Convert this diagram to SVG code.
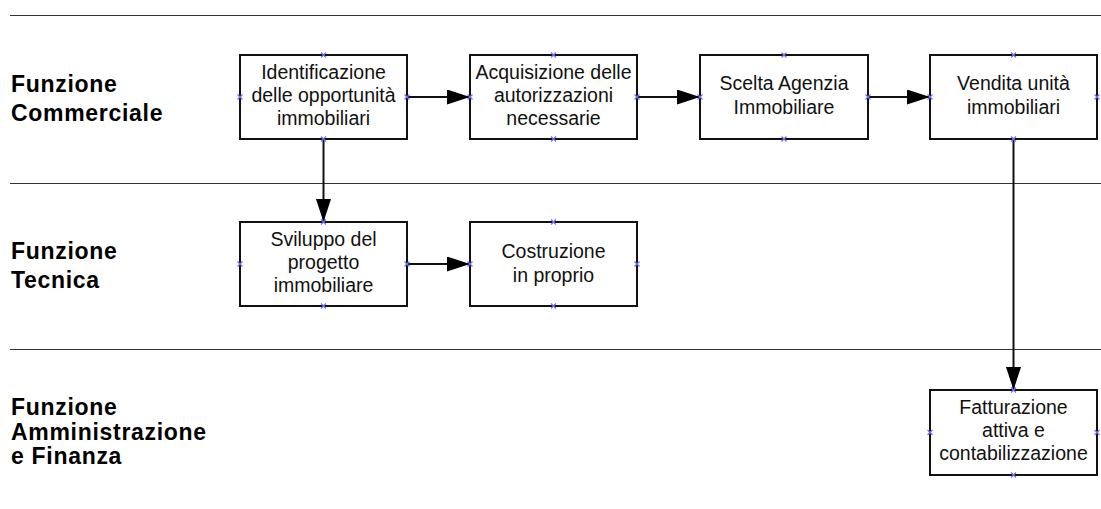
<svg xmlns="http://www.w3.org/2000/svg" width="1101" height="509" viewBox="0 0 1101 509">
<style>
.lane{stroke:#333;stroke-width:1.2;fill:none}
.box{fill:#fff;stroke:#111;stroke-width:2}
.t{font-family:"Liberation Sans",Arial,sans-serif;font-size:19.5px;fill:#111;text-anchor:middle}
.h{font-family:"Liberation Sans",Arial,sans-serif;font-size:23px;letter-spacing:0.7px;font-weight:bold;fill:#000}
.c{stroke:#111;stroke-width:2;fill:none}
.x{stroke:#6f6fff;stroke-width:1.2;fill:none}
</style>
<defs>
<marker id="ah" markerWidth="23" markerHeight="15" refX="23" refY="7.5" orient="auto" markerUnits="userSpaceOnUse">
<path d="M0,0 L23,7.5 L0,15 Z" fill="#000"/>
</marker>
<path id="xm" d="M-2.5,-2.5 L2.5,2.5 M-2.5,2.5 L2.5,-2.5" class="x"/>
</defs>
<rect width="1101" height="509" fill="#fff"/>
<g id="lanes">
<line class="lane" x1="10" y1="15.5" x2="1101" y2="15.5"/>
<line class="lane" x1="10" y1="183.5" x2="1101" y2="183.5"/>
<line class="lane" x1="10" y1="349.5" x2="1101" y2="349.5"/>
<text class="h" x="11" y="92">Funzione</text>
<text class="h" x="11" y="121">Commerciale</text>
<text class="h" x="11" y="258.5">Funzione</text>
<text class="h" x="11" y="287.5">Tecnica</text>
<text class="h" x="11" y="415">Funzione</text>
<text class="h" x="11" y="440">Amministrazione</text>
<text class="h" x="11" y="464">e Finanza</text>
</g>
<g id="connectors">
<line class="c" x1="407" y1="97" x2="470" y2="97" marker-end="url(#ah)"/>
<line class="c" x1="637" y1="97" x2="700" y2="97" marker-end="url(#ah)"/>
<line class="c" x1="868" y1="97" x2="930" y2="97" marker-end="url(#ah)"/>
<line class="c" x1="323.5" y1="139" x2="323.5" y2="222" marker-end="url(#ah)"/>
<line class="c" x1="407" y1="264" x2="470" y2="264" marker-end="url(#ah)"/>
<line class="c" x1="1013.5" y1="139" x2="1013.5" y2="390" marker-end="url(#ah)"/>
</g>
<g id="n1">
<rect class="box" x="240" y="55" width="167" height="84"/>
<text class="t" x="323.5" y="79">Identificazione</text>
<text class="t" x="323.5" y="102">delle opportunità</text>
<text class="t" x="323.5" y="125">immobiliari</text>
</g>
<g id="n2">
<rect class="box" x="470" y="55" width="167" height="84"/>
<text class="t" x="553.5" y="79">Acquisizione delle</text>
<text class="t" x="553.5" y="102">autorizzazioni</text>
<text class="t" x="553.5" y="125">necessarie</text>
</g>
<g id="n3">
<rect class="box" x="700" y="55" width="168" height="84"/>
<text class="t" x="784" y="90">Scelta Agenzia</text>
<text class="t" x="784" y="113.5">Immobiliare</text>
</g>
<g id="n4">
<rect class="box" x="930" y="55" width="167" height="84"/>
<text class="t" x="1013.5" y="90">Vendita unità</text>
<text class="t" x="1013.5" y="113.5">immobiliari</text>
</g>
<g id="n5">
<rect class="box" x="240" y="222" width="167" height="84"/>
<text class="t" x="323.5" y="246">Sviluppo del</text>
<text class="t" x="323.5" y="269">progetto</text>
<text class="t" x="323.5" y="292">immobiliare</text>
</g>
<g id="n6">
<rect class="box" x="470" y="222" width="167" height="84"/>
<text class="t" x="553.5" y="258">Costruzione</text>
<text class="t" x="553.5" y="281.5">in proprio</text>
</g>
<g id="n7">
<rect class="box" x="930" y="390" width="167" height="85"/>
<text class="t" x="1013.5" y="414">Fatturazione</text>
<text class="t" x="1013.5" y="437">attiva e</text>
<text class="t" x="1013.5" y="460">contabilizzazione</text>
</g>
<g id="ports">
<use href="#xm" x="323.5" y="55"/><use href="#xm" x="323.5" y="139"/><use href="#xm" x="240" y="97"/><use href="#xm" x="407" y="97"/>
<use href="#xm" x="553.5" y="55"/><use href="#xm" x="553.5" y="139"/><use href="#xm" x="470" y="97"/><use href="#xm" x="637" y="97"/>
<use href="#xm" x="784" y="55"/><use href="#xm" x="784" y="139"/><use href="#xm" x="700" y="97"/><use href="#xm" x="868" y="97"/>
<use href="#xm" x="1013.5" y="55"/><use href="#xm" x="1013.5" y="139"/><use href="#xm" x="930" y="97"/><use href="#xm" x="1097" y="97"/>
<use href="#xm" x="323.5" y="222"/><use href="#xm" x="323.5" y="306"/><use href="#xm" x="240" y="264"/><use href="#xm" x="407" y="264"/>
<use href="#xm" x="553.5" y="222"/><use href="#xm" x="553.5" y="306"/><use href="#xm" x="470" y="264"/><use href="#xm" x="637" y="264"/>
<use href="#xm" x="1013.5" y="390"/><use href="#xm" x="1013.5" y="475"/><use href="#xm" x="930" y="432.5"/><use href="#xm" x="1097" y="432.5"/>
</g>
</svg>
